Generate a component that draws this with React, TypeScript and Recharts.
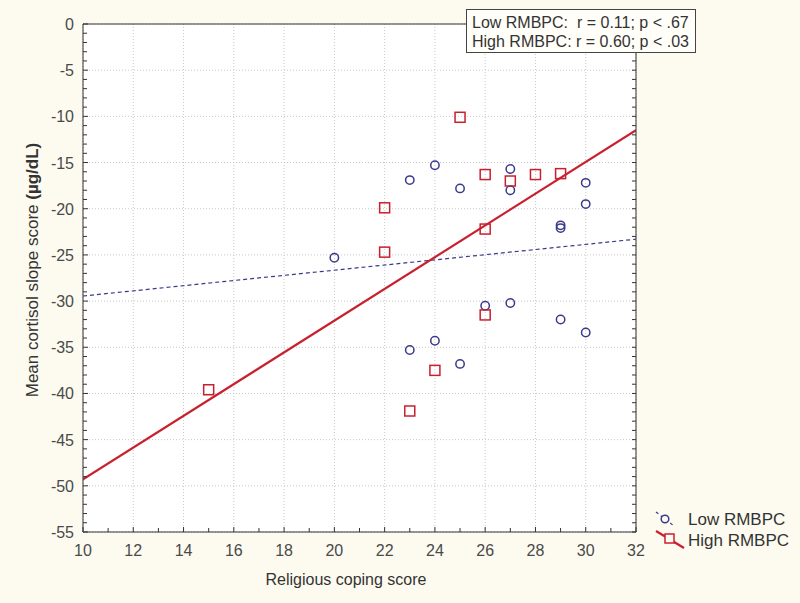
import { ComposedChart, Scatter, Line, XAxis, YAxis, CartesianGrid } from 'recharts';

const BG = '#fdfbf0';
const LOW = '#3a3a8c';
const HIGH = '#c8202e';
const AXIS = '#333';
const FONT = '"Liberation Sans", Arial, sans-serif';

// Low RMBPC scores (circles)
const lowRmbpc = [
  { x: 20, y: -25.3 },
  { x: 23, y: -16.9 },
  { x: 24, y: -15.3 },
  { x: 25, y: -17.8 },
  { x: 27, y: -15.7 },
  { x: 27, y: -18.0 },
  { x: 29, y: -21.8 },
  { x: 29, y: -22.1 },
  { x: 30, y: -17.2 },
  { x: 30, y: -19.5 },
  { x: 26, y: -30.5 },
  { x: 27, y: -30.2 },
  { x: 29, y: -32.0 },
  { x: 30, y: -33.4 },
  { x: 23, y: -35.3 },
  { x: 24, y: -34.3 },
  { x: 25, y: -36.8 },
];

// High RMBPC scores (squares)
const highRmbpc = [
  { x: 15, y: -39.6 },
  { x: 22, y: -19.9 },
  { x: 22, y: -24.7 },
  { x: 25, y: -10.1 },
  { x: 26, y: -16.3 },
  { x: 27, y: -17.0 },
  { x: 28, y: -16.3 },
  { x: 29, y: -16.2 },
  { x: 26, y: -22.2 },
  { x: 26, y: -31.5 },
  { x: 24, y: -37.5 },
  { x: 23, y: -41.9 },
];

// fitted regression lines
const lowFit = [{ x: 10, y: -29.45 }, { x: 32, y: -23.3 }];
const highFit = [{ x: 10, y: -49.3 }, { x: 32, y: -11.5 }];

const xTicks = [10, 12, 14, 16, 18, 20, 22, 24, 26, 28, 30, 32];
const yTicks = [0, -5, -10, -15, -20, -25, -30, -35, -40, -45, -50, -55];
const xMinor = Array.from({ length: 23 }, (_, i) => 10 + i);
const yMinor = Array.from({ length: 56 }, (_, i) => -i);

const labelStyle = { fontSize: 16, fill: '#4a4a4a', fontFamily: FONT };

// ticks point into the plot; labels only on major values
const BottomTick = (p: any) => {
  const v = p.payload.value;
  const major = xTicks.includes(v);
  return (
    <g>
      <line x1={p.x} y1={p.y} x2={p.x} y2={p.y - (major ? 5 : 4)} stroke={AXIS} />
      {major && (
        <text x={p.x} y={p.y + 24} textAnchor="middle" {...labelStyle}>{v}</text>
      )}
    </g>
  );
};
const LeftTick = (p: any) => {
  const v = p.payload.value;
  const major = yTicks.includes(v);
  return (
    <g>
      <line x1={p.x} y1={p.y} x2={p.x + (major ? 5 : 4)} y2={p.y} stroke={AXIS} />
      {major && (
        <text x={p.x - 9} y={p.y + 6} textAnchor="end" {...labelStyle}>{v}</text>
      )}
    </g>
  );
};
const TopTick = (p: any) => <line x1={p.x} y1={p.y} x2={p.x} y2={p.y + 4} stroke={AXIS} />;
const RightTick = (p: any) => <line x1={p.x} y1={p.y} x2={p.x - 4} y2={p.y} stroke={AXIS} />;

const circle = (p: any) => (
  <circle cx={p.cx} cy={p.cy} r={4.2} fill="none" stroke={LOW} strokeWidth={1.5} />
);
const square = (p: any) => (
  <rect x={p.cx - 5} y={p.cy - 5} width={10} height={10} fill="none" stroke={HIGH} strokeWidth={1.5} />
);

export default function App() {
  return (
    <div style={{ position: 'absolute', left: 0, top: 0, width: 800, height: 603, background: BG, fontFamily: FONT }}>
      <ComposedChart width={800} height={603} margin={{ top: 24, right: 164, left: 0, bottom: 0 }}>
        <CartesianGrid
          stroke="#c8c8c8"
          strokeDasharray="1 2"
          fill="#fff"
          verticalValues={xTicks}
          horizontalValues={yTicks}
        />
        <XAxis
          dataKey="x"
          type="number"
          domain={[10, 32]}
          ticks={xMinor}
          interval={0}
          height={71}
          tickLine={false}
          tickSize={0}
          tickMargin={0}
          axisLine={{ stroke: AXIS }}
          tick={BottomTick}
          allowDataOverflow
        />
        <YAxis
          type="number"
          domain={[-55, 0]}
          ticks={yMinor}
          interval={0}
          width={83}
          tickLine={false}
          tickSize={0}
          tickMargin={0}
          axisLine={{ stroke: AXIS }}
          tick={LeftTick}
          allowDataOverflow
        />
        <XAxis xAxisId="top" orientation="top" type="number" domain={[10, 32]} ticks={xMinor} interval={0} mirror tickSize={0} tickMargin={0} tickLine={false} tick={TopTick} axisLine={{ stroke: AXIS }} allowDataOverflow />
        <YAxis yAxisId="right" orientation="right" type="number" domain={[-55, 0]} ticks={yMinor} interval={0} mirror tickSize={0} tickMargin={0} tickLine={false} tick={RightTick} axisLine={{ stroke: AXIS }} allowDataOverflow />

        <Line data={lowFit} dataKey="y" stroke={LOW} strokeWidth={1.2} strokeDasharray="4 3" dot={false} isAnimationActive={false} />
        <Line data={highFit} dataKey="y" stroke={HIGH} strokeWidth={2.2} dot={false} isAnimationActive={false} />
        <Scatter data={lowRmbpc} dataKey="y" shape={circle} isAnimationActive={false} />
        <Scatter data={highRmbpc} dataKey="y" shape={square} isAnimationActive={false} />
      </ComposedChart>

      {/* axis titles */}
      <div style={{ position: 'absolute', left: 346, top: 580, fontSize: 16, color: '#333', whiteSpace: 'nowrap', transform: 'translate(-50%, -50%)' }}>
        Religious coping score
      </div>
      <div
        style={{
          position: 'absolute', left: 33, top: 270, fontSize: 17, color: '#333', whiteSpace: 'nowrap',
          transform: 'translate(-50%, -50%) rotate(-90deg)',
        }}
      >
        Mean cortisol slope score <b>(µg/dL)</b>
      </div>

      {/* correlation box */}
      <div
        style={{
          position: 'absolute', left: 466, top: 9, width: 230, height: 44, border: '1px solid #444',
          background: '#fffef9', fontSize: 16, lineHeight: '19px', color: '#333', padding: '3px 0 0 5px', boxSizing: 'border-box',
          whiteSpace: 'pre',
        }}
      >
        <div>{'Low RMBPC:  r = 0.11; p < .67'}</div>
        <div>{'High RMBPC: r = 0.60; p < .03'}</div>
      </div>

      {/* legend */}
      <svg style={{ position: 'absolute', left: 652, top: 508 }} width={40} height={44}>
        <line x1={4} y1={4} x2={22} y2={18} stroke={LOW} strokeWidth={1.2} strokeDasharray="3 3" />
        <circle cx={13} cy={11} r={3.8} fill={BG} stroke={LOW} strokeWidth={1.5} />
        <line x1={4} y1={23} x2={32} y2={40} stroke={HIGH} strokeWidth={2.2} />
        <rect x={13} y={26} width={9} height={9} fill={BG} stroke={HIGH} strokeWidth={1.5} />
      </svg>
      <div style={{ position: 'absolute', left: 688, top: 509, fontSize: 17, lineHeight: '21px', color: '#333' }}>
        <div>Low RMBPC</div>
        <div>High RMBPC</div>
      </div>
    </div>
  );
}
